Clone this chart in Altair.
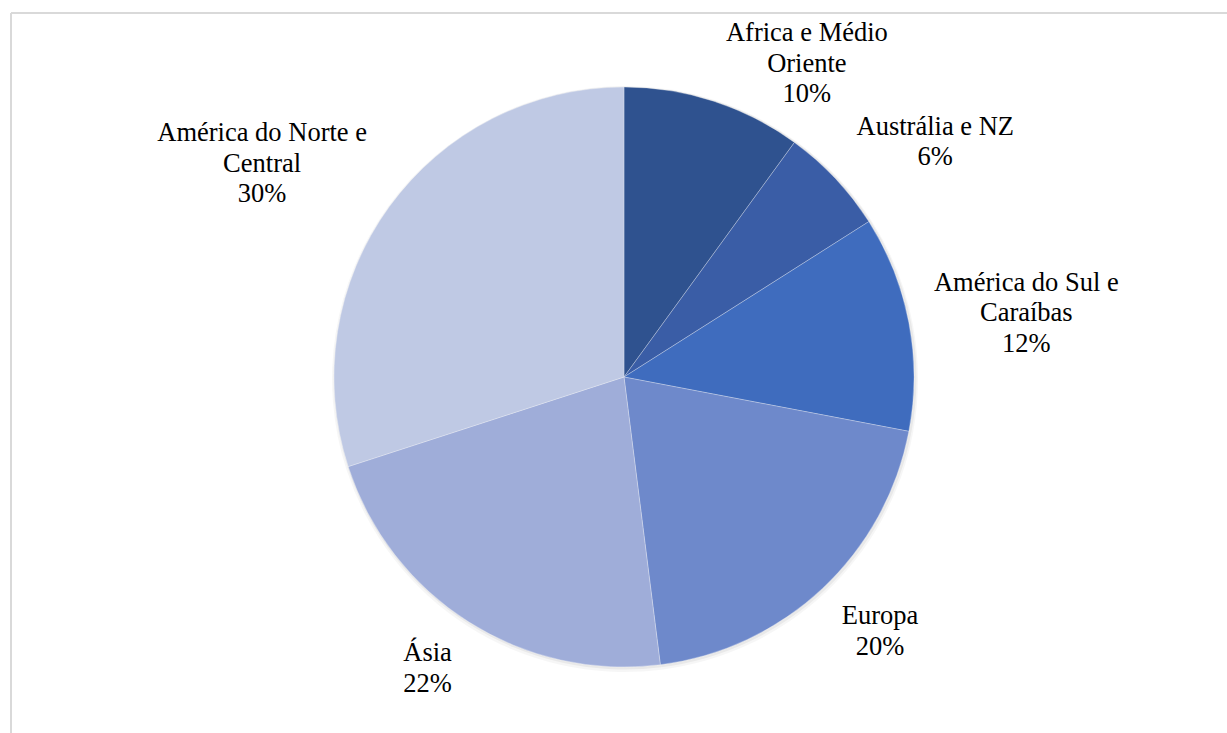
import math
import altair as alt
import pandas as pd

categories = ["Africa e Médio\nOriente", "Austrália e NZ", "América do Sul e\nCaraíbas",
              "Europa", "Ásia", "América do Norte e\nCentral"]
values = [10, 6, 12, 20, 22, 30]
colors = ["#2F528F", "#3A5DA6", "#3F6CBE", "#6E89CB", "#9FADD9", "#BFC9E4"]

# label placement: (distance from centre, dx, dy)
label_place = [(320, 84, -39.5), (320, 78, -31), (320, 88, -34.5),
               (320, 37, 6), (320, -25, 6), (320, -103, -55.5)]

df = pd.DataFrame({
    "idx": list(range(len(categories))),
    "cat": categories,
    "value": values,
    "label": [f"{c}\n{v}%" for c, v in zip(categories, values)],
})

CX, CY, R = 624, 377, 290
W, H = 1227, 733
FONT = "Liberation Serif"

base = alt.Chart(df)

shadow1 = base.mark_arc(radius=R + 3, color="#000000", opacity=0.035).encode(
    theta=alt.Theta("value:Q", stack=True),
    order=alt.Order("idx:Q"),
    x=alt.value(CX + 1), y=alt.value(CY + 2),
)
shadow2 = base.mark_arc(radius=R + 1.5, color="#000000", opacity=0.05).encode(
    theta=alt.Theta("value:Q", stack=True),
    order=alt.Order("idx:Q"),
    x=alt.value(CX + 1), y=alt.value(CY + 1),
)

pie = base.mark_arc(radius=R, stroke="#ffffff", strokeWidth=0.4, strokeOpacity=0.7).encode(
    theta=alt.Theta("value:Q", stack=True),
    order=alt.Order("idx:Q"),
    color=alt.Color("cat:N", scale=alt.Scale(domain=categories, range=colors), legend=None),
    x=alt.value(CX), y=alt.value(CY),
)

layers = [shadow1, shadow2, pie]
for i, (r, dx, dy) in enumerate(label_place):
    t = base.transform_window(
        cum="sum(value)", sort=[alt.SortField("idx")], frame=[None, 0]
    ).transform_calculate(
        mid="datum.cum - datum.value / 2"
    ).transform_filter(
        alt.datum.idx == i
    ).mark_text(
        radius=r, dx=dx, dy=dy, font=FONT, fontSize=26.5,
        lineHeight=30.5, lineBreak="\n", align="center", baseline="middle", color="#000000"
    ).encode(
        theta=alt.Theta("mid:Q", scale=alt.Scale(domain=[0, 100], range=[0, 2 * math.pi])),
        text="label:N",
        x=alt.value(CX), y=alt.value(CY),
    )
    layers.append(t)

top_rule = alt.Chart(df).mark_rule(color="#D9D9D9", strokeWidth=2).encode(
    x=alt.value(11), x2=alt.value(W), y=alt.value(13)
)
left_rule = alt.Chart(df).mark_rule(color="#D9D9D9", strokeWidth=2).encode(
    x=alt.value(11), y=alt.value(13), y2=alt.value(H)
)
layers += [top_rule, left_rule]

chart = alt.layer(*layers).properties(
    width=W, height=H, padding=0, autosize=alt.AutoSizeParams(type="none"),
    background="#ffffff"
).configure_view(stroke=None)

chart.save("out.html", embed_options={"renderer": "svg", "actions": False})
